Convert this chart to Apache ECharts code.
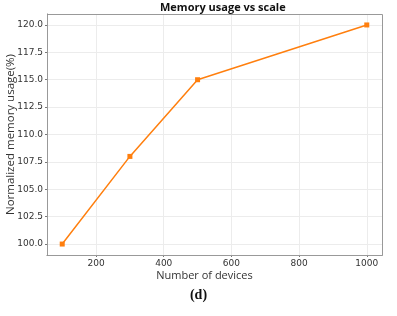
<!DOCTYPE html>
<html><head><meta charset="utf-8">
<script src="https://cdn.jsdelivr.net/npm/echarts@6/dist/echarts.min.js"></script>
<style>html,body{margin:0;padding:0;background:#fff}#c{width:397px;height:316px}</style>
</head><body><div id="c"></div>
<script>
const devices = [100, 300, 500, 1000];
const memoryUsage = [100.0, 108.0, 115.0, 120.0];
const xTicks = [200, 400, 600, 800, 1000];
const yTicks = [100, 102.5, 105, 107.5, 110, 112.5, 115, 117.5, 120];

const chart = echarts.init(document.getElementById('c'));
chart.setOption({
  animation: false,
  backgroundColor: '#fff',
  title: {
    text: 'Memory usage vs scale', left: 155, top: -3,
    textStyle: { fontSize: 11, fontWeight: 'bold', color: '#111', fontFamily: 'Open Sans' }
  },
  grid: { left: 47, right: 15, top: 14, bottom: 61, outerBoundsMode: 'none', containLabel: false },
  xAxis: {
    type: 'value', min: 55, max: 1045,
    name: 'Number of devices', nameLocation: 'middle', nameGap: 15, nameMoveOverlap: false,
    nameTextStyle: { fontSize: 11, color: '#333', fontFamily: 'Open Sans', padding: [0, 20, 0, 0] },
    axisLine: { show: true, lineStyle: { color: '#777', width: 1 } },
    axisTick: { show: true, length: 2, customValues: xTicks, lineStyle: { color: '#777' } },
    axisLabel: { customValues: xTicks, fontSize: 9, color: '#333', margin: 4, fontFamily: 'DejaVu Sans',
      formatter: v => String(v) },
    splitLine: { show: true, lineStyle: { color: '#ececec', width: 1 } }
  },
  yAxis: {
    type: 'value', min: 99, max: 121,
    name: 'Normalized memory usage(%)', nameLocation: 'middle', nameGap: 30, nameMoveOverlap: false,
    nameTextStyle: { fontSize: 11.5, color: '#333', fontFamily: 'Open Sans' },
    axisLine: { show: true, lineStyle: { color: '#777', width: 1 } },
    axisTick: { show: true, length: 2, customValues: yTicks, lineStyle: { color: '#777' } },
    axisLabel: { customValues: yTicks, fontSize: 9, color: '#333', margin: 4, fontFamily: 'DejaVu Sans',
      formatter: v => v.toFixed(1) },
    splitLine: { show: true, lineStyle: { color: '#ececec', width: 1 } }
  },
  graphic: [{
    type: 'text', left: 'center', top: 288,
    style: { text: '(d)', font: 'bold 14px "Liberation Serif"', fill: '#111' }
  }, {
    type: 'rect', shape: { x: 47.5, y: 14.5, width: 335, height: 241 },
    style: { fill: 'none', stroke: '#999', lineWidth: 1 }, silent: true, z: 10
  }],
  series: [{
    type: 'line',
    data: devices.map((d, i) => [d, memoryUsage[i]]),
    symbol: 'rect', symbolSize: 5,
    lineStyle: { color: '#ff7f0e', width: 1.5 },
    itemStyle: { color: '#ff7f0e' }
  }]
});
</script></body></html>
